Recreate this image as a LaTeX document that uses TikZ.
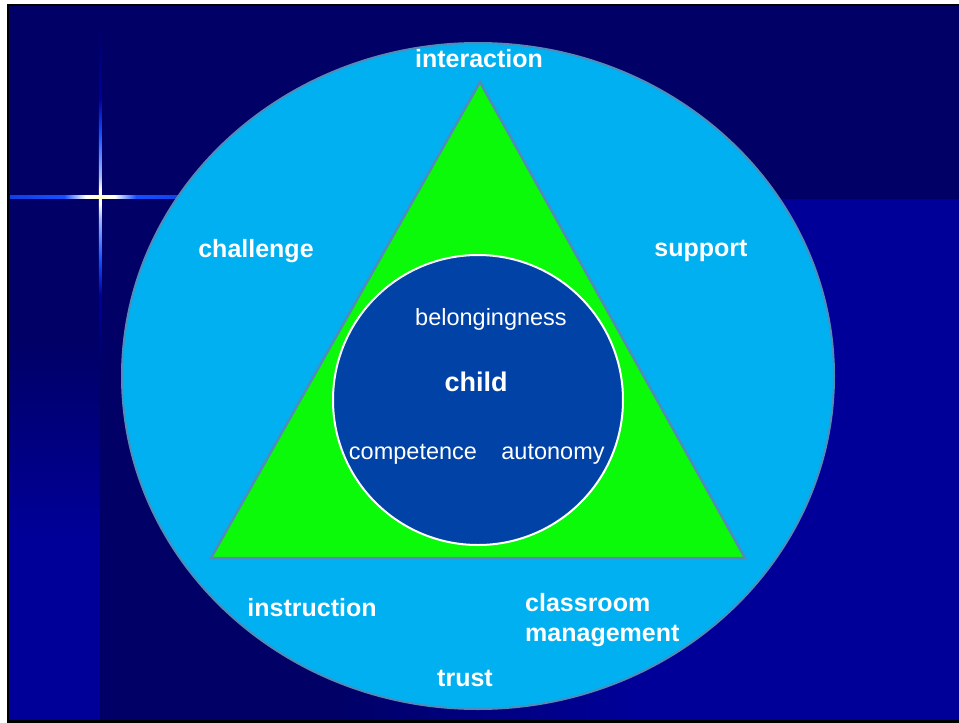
\documentclass[tikz,border=0pt]{standalone}
\usepackage{fontspec}
\setmainfont{Liberation Sans}
\definecolor{navydark}{RGB}{0,0,102}
\definecolor{navylight}{RGB}{0,0,153}
\definecolor{ringblue}{RGB}{0,176,240}
\definecolor{ringedge}{RGB}{80,140,185}
\definecolor{triangreen}{RGB}{10,250,10}
\definecolor{childblue}{RGB}{0,66,166}
\definecolor{flareblue}{RGB}{20,80,255}
\definecolor{flarecore}{RGB}{255,255,200}
% only 25bp--75bp of a shading is seen in the path
\pgfdeclarehorizontalshading{flareh}{100bp}{color(0bp)=(flareblue!80!navydark); color(25bp)=(flareblue!80!navydark); color(40bp)=(flareblue); color(46bp)=(white); color(50bp)=(flarecore); color(54bp)=(white); color(60bp)=(flareblue); color(75bp)=(flareblue!80!navydark); color(100bp)=(flareblue!80!navydark)}
\pgfdeclareverticalshading{flarev}{100bp}{color(0bp)=(navydark); color(25bp)=(navydark); color(36bp)=(navylight); color(41bp)=(flareblue); color(47bp)=(white!60!flareblue); color(49bp)=(white); color(50bp)=(flarecore); color(51bp)=(white); color(53bp)=(white!60!flareblue); color(59bp)=(flareblue); color(64bp)=(navylight); color(75bp)=(navydark); color(100bp)=(navydark)}

\begin{document}
\begin{tikzpicture}[x=1pt, y=-1pt,
    bold/.style={text=white, font=\fontsize{25}{30}\selectfont\bfseries, inner sep=0pt},
    plain/.style={text=white, font=\fontsize{23.5}{28}\selectfont, inner sep=0pt}]
    \useasboundingbox (0,0) rectangle (959,723);

    % background
    \fill[navydark] (8,5) rectangle (959,721);
    \shade[top color=navydark, bottom color=navylight] (8,340) rectangle (100,540);
    \fill[navylight] (8,540) rectangle (100,721);
    \shade[left color=navydark, right color=navylight] (330,199) rectangle (635,721);
    \fill[navylight] (635,199) rectangle (959,721);
    \draw[black, line width=2.5pt] (8,5) rectangle (960,721.5);

    % flare
    \shade[shading=flareh] (10,195.8) rectangle (190,198.4);
    \shade[shading=flarev] (98.8,22) rectangle (101.4,372);

    % circles and triangle
    \draw[ringedge, fill=ringblue, line width=2pt] (478,376) ellipse [x radius=356, y radius=333];
    \draw[ringedge, fill=triangreen, line width=2.5pt] (480,82) -- (745,558) -- (211,558) -- cycle;
    \draw[white, fill=childblue, line width=2pt] (478,400) circle [radius=145];

    % outer labels
    \node[bold] (interaction) at (479,59) {interaction};
    \node[bold] (challenge) at (256,251) {challenge};
    \node[bold] (support) at (701,251) {support};
    \node[bold] (instruction) at (312,608) {instruction};
    \node[bold, align=left, anchor=west] (management) at (525,620) {classroom\\management};
    \node[bold] (trust) at (465,678) {trust};

    % inner labels
    \node[plain] (belonging) at (491,319) {belongingness};
    \node[bold, font=\fontsize{27}{32}\selectfont\bfseries] (child) at (476,382) {child};
    \node[plain] (competence) at (413,454) {competence};
    \node[plain] (autonomy) at (553,454) {autonomy};
\end{tikzpicture}
\end{document}
